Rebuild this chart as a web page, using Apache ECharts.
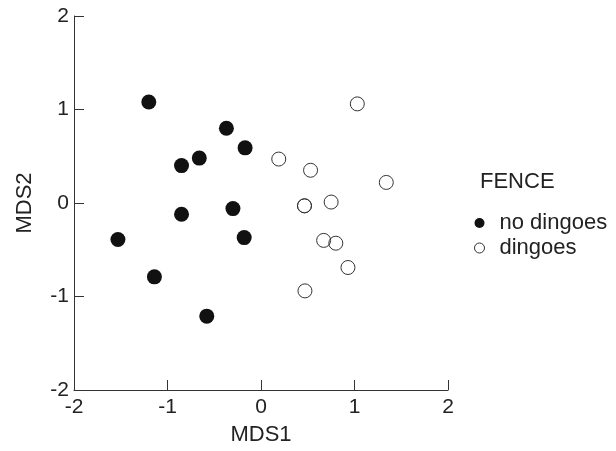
<!DOCTYPE html>
<html>
<head>
<meta charset="utf-8">
<script src="https://cdn.jsdelivr.net/npm/echarts@6/dist/echarts.min.js"></script>
<style>html,body{margin:0;padding:0;background:#fff;}#c{width:616px;height:451px;}</style>
</head>
<body>
<div id="c"></div>
<script>
var legendTitle = 'FENCE';
var seriesNames = ['no dingoes', 'dingoes'];
var xName = 'MDS1';
var yName = 'MDS2';
var noDingoesX = [-1.20, -0.37, -0.17, -0.66, -0.85, -0.85, -0.30, -1.53, -0.18, -1.14, -0.58];
var noDingoesY = [1.08, 0.80, 0.59, 0.48, 0.40, -0.12, -0.06, -0.39, -0.37, -0.79, -1.21];
var dingoesX = [1.03, 0.19, 0.53, 1.34, 0.465, 0.465, 0.75, 0.67, 0.80, 0.93, 0.47];
var dingoesY = [1.06, 0.47, 0.35, 0.22, -0.03, -0.03, 0.01, -0.40, -0.43, -0.69, -0.94];

function pairs(xs, ys) { return xs.map(function (x, i) { return [x, ys[i]]; }); }

var font = 'Liberation Sans, Arial, sans-serif';
var axisCol = '#333';
var txtCol = '#222';
var chart = echarts.init(document.getElementById('c'), null, {renderer: 'canvas'});
var axisCommon = {
  type: 'value', min: -2, max: 2, interval: 1,
  nameLocation: 'middle',
  nameTextStyle: {fontFamily: font, fontSize: 22, color: txtCol},
  axisLine: {show: true, onZero: false, lineStyle: {color: axisCol, width: 1}},
  axisTick: {show: true, inside: true, length: 10, lineStyle: {color: axisCol, width: 1}},
  axisLabel: {fontFamily: font, fontSize: 21, color: txtCol},
  splitLine: {show: false}
};
chart.setOption({
  animation: false,
  backgroundColor: '#fff',
  title: {text: legendTitle, left: 480, top: 171, padding: 0,
    textStyle: {fontFamily: font, fontSize: 22, fontWeight: 'normal', color: txtCol}},
  legend: {
    orient: 'vertical', left: 474, top: 212, padding: 0,
    itemWidth: 10, itemHeight: 10, itemGap: 3,
    textStyle: {fontFamily: font, fontSize: 22, color: txtCol, padding: [0, 0, 0, 10]},
    data: [
      {name: seriesNames[0], icon: 'circle', itemStyle: {color: '#111', borderWidth: 0}},
      {name: seriesNames[1], icon: 'circle', itemStyle: {color: '#fff', borderColor: '#333', borderWidth: 1}}
    ]
  },
  grid: {left: 74, top: 16, width: 374, height: 376, containLabel: false},
  xAxis: Object.assign({}, axisCommon, {name: xName, nameGap: 34,
    axisLabel: Object.assign({}, axisCommon.axisLabel, {margin: 7})}),
  yAxis: Object.assign({}, axisCommon, {name: yName, nameGap: 38,
    axisLabel: Object.assign({}, axisCommon.axisLabel, {margin: 5})}),
  series: [
    {name: seriesNames[0], type: 'scatter', symbol: 'circle', symbolSize: 15,
      itemStyle: {color: '#111', opacity: 1}, data: pairs(noDingoesX, noDingoesY)},
    {name: seriesNames[1], type: 'scatter', symbol: 'circle', symbolSize: 14,
      itemStyle: {color: 'rgba(255,255,255,0)', borderColor: '#333', borderWidth: 1, opacity: 1},
      data: pairs(dingoesX, dingoesY)}
  ]
});
</script>
</body>
</html>
